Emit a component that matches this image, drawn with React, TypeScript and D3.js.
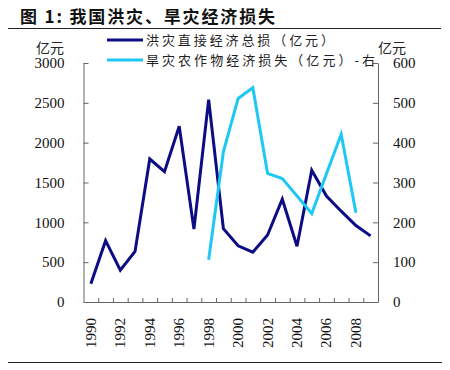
import React, { useEffect, useRef } from "react";
import * as d3 from "d3";

// years on the x axis
const years = d3.range(1990, 2010);
// 洪灾直接经济总损（亿元）, left axis
const floodLoss = [230, 770, 400, 635, 1795, 1635, 2205, 915, 2540, 920, 705, 625, 840, 1290, 700, 1655, 1330, 1140, 960, 830];
// 旱灾农作物经济损失（亿元）, right axis, 1998-2008
const droughtYears = d3.range(1998, 2009);
const droughtLoss = [106, 377, 511, 538, 323, 310, 266, 222, 322, 421, 224];

const leftTicks = [0, 500, 1000, 1500, 2000, 2500, 3000];
const rightTicks = [0, 100, 200, 300, 400, 500, 600];
const yearLabels = years.filter(y => y % 2 === 0);

const DARK = "#0c0c84";
const LIGHT = "#1ec8f5";
const SERIF = "Liberation Serif, Times New Roman, serif";
const CJK = "Noto Sans CJK SC, sans-serif";

function App() {
  const svgRef = useRef(null);

  const dims = { left: 83.5, right: 378, top: 63, bottom: 302 };

  useEffect(() => {
    const svg = d3.select(svgRef.current);
    svg.selectAll("*").remove();

    const x = d3.scaleBand().domain(years).range([dims.left, dims.right]);
    const xIdx = d3.scaleLinear().domain([0, years.length]).range([dims.left, dims.right]);
    const yL = d3.scaleLinear().domain([0, 3000]).range([dims.bottom, dims.top]);
    const yR = d3.scaleLinear().domain([0, 600]).range([dims.bottom, dims.top]);
    const cx = (yr) => x(yr) + x.bandwidth() / 2;

    // title
    svg.append("text")
      .attr("x", 20).attr("y", 23)
      .style("font-family", CJK).style("font-weight", "bold").style("font-size", "17px")
      .attr("fill", "#111")
      .attr("textLength", 255).attr("lengthAdjust", "spacing")
      .text("图 1:  我国洪灾、旱灾经济损失");
    svg.append("line").attr("x1", 8).attr("x2", 441).attr("y1", 28.5).attr("y2", 28.5)
      .attr("stroke", "#222").attr("stroke-width", 1);
    svg.append("line").attr("x1", 8).attr("x2", 442).attr("y1", 362.5).attr("y2", 362.5)
      .attr("stroke", "#222").attr("stroke-width", 1);

    // axes
    const styleAxis = (g) => {
      g.attr("font-family", null).attr("font-size", null);
      g.select(".domain").attr("stroke", "#666");
      g.selectAll(".tick line").attr("stroke", "#666");
      g.selectAll(".tick text")
        .style("font-family", SERIF).style("font-size", "15px").attr("fill", "#111");
    };

    svg.append("g")
      .attr("transform", `translate(${dims.left},0)`)
      .call(d3.axisLeft(yL).tickValues(leftTicks).tickFormat(d3.format("d"))
        .tickSize(-5).tickSizeOuter(0).tickPadding(19))
      .call(styleAxis);

    svg.append("g")
      .attr("transform", `translate(${dims.right},0)`)
      .call(d3.axisRight(yR).tickValues(rightTicks).tickFormat(d3.format("d"))
        .tickSize(-5).tickSizeOuter(0).tickPadding(15))
      .call(styleAxis)
      .call(g => g.selectAll(".tick text").attr("text-anchor", "start"));

    svg.append("g")
      .attr("transform", `translate(0,${dims.bottom})`)
      .call(d3.axisBottom(xIdx).tickValues(d3.range(1, years.length)).tickSize(-4).tickSizeOuter(0).tickFormat(() => ""))
      .call(styleAxis);

    // rotated year labels
    svg.append("g").selectAll("text")
      .data(yearLabels)
      .join("text")
      .attr("transform", d => `translate(${cx(d) + 5},318) rotate(-90)`)
      .attr("text-anchor", "end")
      .style("font-family", SERIF).style("font-size", "15px").attr("fill", "#111")
      .text(d => d);

    // unit labels
    [[50, "亿元"], [392, "亿元"]].forEach(([ux, t]) => {
      svg.append("text")
        .attr("x", ux).attr("y", 53)
        .attr("text-anchor", "middle")
        .style("font-family", CJK).style("font-size", "14px").attr("fill", "#222")
        .text(t);
    });

    // lines
    const lineL = d3.line().x((d, i) => cx(years[i])).y(d => yL(d));
    const lineR = d3.line().x((d, i) => cx(droughtYears[i])).y(d => yR(d));

    svg.append("path")
      .attr("d", lineL(floodLoss))
      .attr("fill", "none").attr("stroke", DARK).attr("stroke-width", 3);
    svg.append("path")
      .attr("d", lineR(droughtLoss))
      .attr("fill", "none").attr("stroke", LIGHT).attr("stroke-width", 3);

    // legend
    const legend = [
      { label: "洪灾直接经济总损（亿元）", color: DARK, y: 40, len: 188 },
      { label: "旱灾农作物经济损失（亿元）-右", color: LIGHT, y: 60, len: 229 },
    ];
    legend.forEach(item => {
      svg.append("line")
        .attr("x1", 107).attr("x2", 143).attr("y1", item.y).attr("y2", item.y)
        .attr("stroke", item.color).attr("stroke-width", 3);
      svg.append("text")
        .attr("x", 146).attr("y", item.y + 5)
        .style("font-family", CJK).style("font-size", "13px").attr("fill", "#222")
        .attr("textLength", item.len).attr("lengthAdjust", "spacing")
        .text(item.label);
    });
  }, []);

  return (
    <svg
      ref={svgRef}
      width={450}
      height={370}
      style={{ position: "absolute", left: 0, top: 0, background: "#fff" }}
    />
  );
}

export default App;
